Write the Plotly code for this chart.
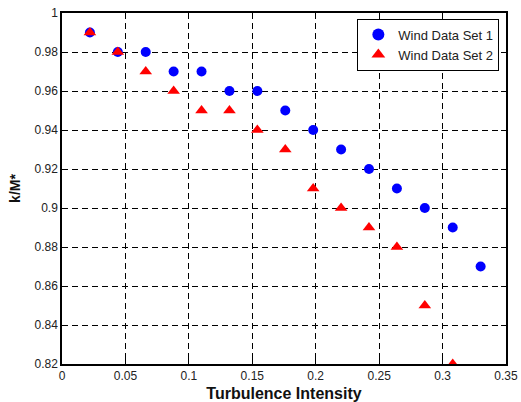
import plotly.graph_objects as go

x1 = [0.022, 0.044, 0.066, 0.088, 0.110, 0.132, 0.154, 0.176, 0.198, 0.220, 0.242, 0.264, 0.286, 0.308, 0.330]
y1 = [0.99, 0.98, 0.98, 0.97, 0.97, 0.96, 0.96, 0.95, 0.94, 0.93, 0.92, 0.91, 0.90, 0.89, 0.87]
x2 = [0.022, 0.044, 0.066, 0.088, 0.110, 0.132, 0.154, 0.176, 0.198, 0.220, 0.242, 0.264, 0.286, 0.308]
y2 = [0.99, 0.98, 0.97, 0.96, 0.95, 0.95, 0.94, 0.93, 0.91, 0.90, 0.89, 0.88, 0.85, 0.82]
x_ticks = [0, 0.05, 0.1, 0.15, 0.2, 0.25, 0.3, 0.35]
x_tick_labels = ["0", "0.05", "0.1", "0.15", "0.2", "0.25", "0.3", "0.35"]
y_ticks = [0.82, 0.84, 0.86, 0.88, 0.9, 0.92, 0.94, 0.96, 0.98, 1.0]
y_tick_labels = ["0.82", "0.84", "0.86", "0.88", "0.9", "0.92", "0.94", "0.96", "0.98", "1"]

FONT = "Liberation Sans, Arial, sans-serif"

fig = go.Figure()
fig.add_trace(go.Scatter(x=x1, y=y1, mode="markers", name="Wind Data Set 1",
                         marker=dict(symbol="circle", size=10, color="#0000FF")))
fig.add_trace(go.Scatter(x=x2, y=y2, mode="markers", name="Wind Data Set 2",
                         marker=dict(symbol="triangle-up", size=11, color="#FF0000")))

axis_common = dict(
    showline=True, linecolor="black", linewidth=1.5, mirror="ticks",
    ticks="inside", ticklen=5, tickcolor="black",
    showgrid=True, gridcolor="black", gridwidth=1, griddash="6px,4px",
    zeroline=False, tickfont=dict(family=FONT, size=12, color="#222222"),
    automargin=False,
)

fig.update_xaxes(range=[0, 0.35], tickvals=x_ticks, ticktext=x_tick_labels,
                 title=dict(text="<b>Turbulence Intensity</b>", font=dict(family=FONT, size=16, color="#111111"), standoff=14),
                 **axis_common)
fig.update_yaxes(range=[0.82, 1.0], tickvals=y_ticks, ticktext=y_tick_labels,
                 title=dict(text="<b>k/M*</b>", font=dict(family=FONT, size=14, color="#111111"), standoff=11),
                 **axis_common)

fig.update_layout(
    width=521, height=402,
    margin=dict(l=61.5, r=14.5, t=13.3, b=37.7),
    paper_bgcolor="white", plot_bgcolor="white",
    font=dict(family=FONT, size=12, color="black"),
    showlegend=True,
    legend=dict(x=0.985, y=0.984, xanchor="right", yanchor="top",
                bgcolor="white", bordercolor="black", borderwidth=1,
                font=dict(family=FONT, size=13, color="#222222"),
                tracegroupgap=0, itemsizing="constant"),
)

fig.write_html("out.html")
